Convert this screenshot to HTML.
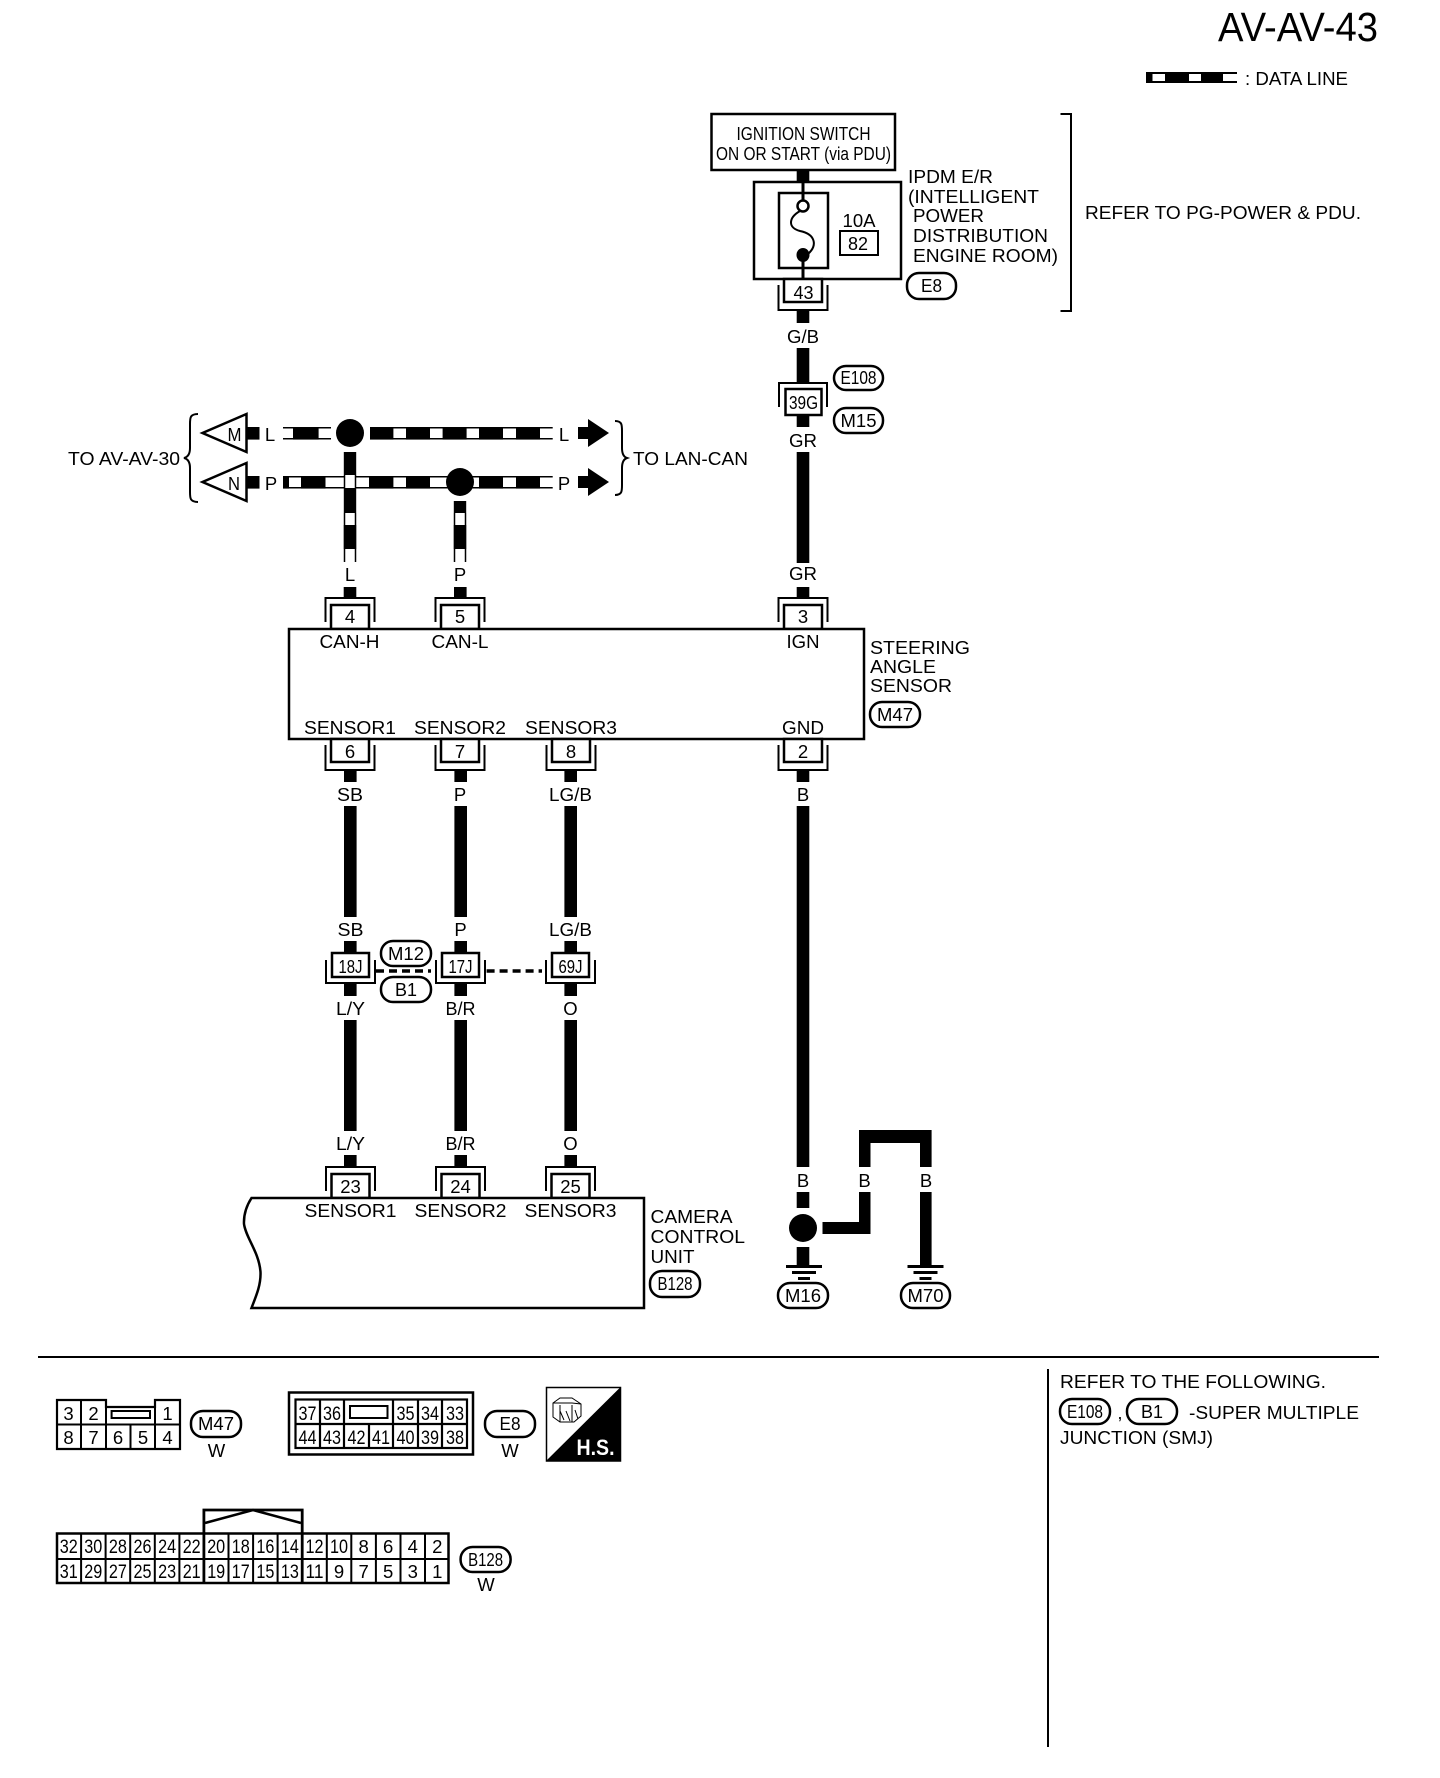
<!DOCTYPE html>
<html lang="en">
<head>
<meta charset="utf-8">
<title>AV-AV-43</title>
<style>
html,body{margin:0;padding:0;background:#fff}
svg{display:block}
text{font-family:"Liberation Sans",sans-serif;font-size:18.5px;text-anchor:middle;fill:#000}
.l{text-anchor:start}
.p{fill:#fff;stroke:#000;stroke-width:2.5}
.o{fill:none;stroke:#000;stroke-width:2}
.b{fill:#fff;stroke:#000;stroke-width:2.5}
.g{fill:none;stroke:#000;stroke-width:2}
.n{font-size:19px}
</style>
</head>
<body>
<svg xmlns="http://www.w3.org/2000/svg" width="1440" height="1778" viewBox="0 0 1440 1778">
<defs>
<g id="cT"><path class="o" d="M-24.5 -7V-31H24.5V-7"/><rect class="b" x="-19" y="-24" width="38" height="24"/></g>
<g id="cB"><path class="o" d="M-24.5 6V31H24.5V6"/><rect class="b" x="-19" y="0" width="38" height="23"/></g>
<g id="cM"><path class="o" d="M-24.5 7V30H24.5V7"/><rect class="b" x="-18.5" y="0" width="37" height="24"/></g>
<g id="gnd"><rect x="-18" y="0" width="36" height="3"/><rect x="-12" y="6" width="24" height="3"/><rect x="-6" y="12" width="12" height="3"/></g>
</defs>
<rect width="1440" height="1778" fill="#fff"/>

<!-- Title / legend -->
<text x="1298" y="41" style="font-size:41px" textLength="160" lengthAdjust="spacingAndGlyphs">AV-AV-43</text>
<rect x="1146" y="72" width="91" height="11"/>
<rect x="1152.5" y="74" width="12.5" height="7" fill="#fff"/>
<rect x="1189" y="74" width="12" height="7" fill="#fff"/>
<rect x="1223" y="74" width="15" height="7" fill="#fff"/>
<text class="l" x="1245" y="85" textLength="103" lengthAdjust="spacingAndGlyphs">: DATA LINE</text>

<!-- Ignition + IPDM -->
<rect x="796.7" y="170" width="12.6" height="12"/>
<rect class="b" x="711.5" y="114" width="183.5" height="56"/>
<text x="803.5" y="140" textLength="134" lengthAdjust="spacingAndGlyphs">IGNITION SWITCH</text>
<text x="803.5" y="160" textLength="175" lengthAdjust="spacingAndGlyphs">ON OR START (via PDU)</text>
<rect class="b" x="754" y="182" width="147" height="97"/>
<rect class="b" x="779" y="193" width="49" height="75"/>
<rect x="801.5" y="182" width="3" height="19"/>
<circle cx="803" cy="206" r="5.5" fill="#fff" stroke="#000" stroke-width="2.5"/>
<path d="M800 211C788 218 788 228 800 231C815 234 818 245 808 254" fill="none" stroke="#000" stroke-width="2"/>
<ellipse cx="803" cy="255" rx="6.5" ry="7"/>
<rect x="801.5" y="260" width="3" height="19"/>
<text x="859" y="227" textLength="33" lengthAdjust="spacingAndGlyphs">10A</text>
<rect class="o" x="840" y="231" width="38" height="24"/>
<text x="858" y="250" textLength="20" lengthAdjust="spacingAndGlyphs">82</text>
<text class="l" x="908" y="183" textLength="85" lengthAdjust="spacingAndGlyphs">IPDM E/R</text>
<text class="l" x="908" y="203" textLength="131" lengthAdjust="spacingAndGlyphs">(INTELLIGENT</text>
<text class="l" x="913" y="222" textLength="71" lengthAdjust="spacingAndGlyphs">POWER</text>
<text class="l" x="913" y="242" textLength="135" lengthAdjust="spacingAndGlyphs">DISTRIBUTION</text>
<text class="l" x="913" y="262" textLength="145" lengthAdjust="spacingAndGlyphs">ENGINE ROOM)</text>
<rect class="p" x="907" y="273" width="49" height="26" rx="12"/>
<text x="931.5" y="292" textLength="21" lengthAdjust="spacingAndGlyphs">E8</text>
<path d="M1060.5 114H1071V311H1060.5" fill="none" stroke="#000" stroke-width="2"/>
<text class="l" x="1085" y="219" textLength="276" lengthAdjust="spacingAndGlyphs">REFER TO PG-POWER &amp; PDU.</text>

<use href="#cB" x="803" y="279"/>
<text x="803.5" y="299" textLength="20" lengthAdjust="spacingAndGlyphs">43</text>

<!-- x=803 wires -->
<g>
<rect x="796.7" y="311" width="12.6" height="12"/>
<rect x="796.7" y="348" width="12.6" height="35"/>
<rect x="796.7" y="415" width="12.6" height="12"/>
<rect x="796.7" y="452" width="12.6" height="111"/>
<rect x="796.7" y="587" width="12.6" height="11"/>
<rect x="796.7" y="770" width="12.6" height="12"/>
<rect x="796.7" y="806" width="12.6" height="361"/>
<rect x="796.7" y="1192" width="12.6" height="16"/>
<rect x="796.7" y="1247" width="12.6" height="18"/>
</g>
<text x="803" y="343" textLength="32" lengthAdjust="spacingAndGlyphs">G/B</text>
<path class="o" d="M779 407V383H827V407"/>
<rect class="b" x="785.5" y="389" width="36" height="26"/>
<text x="803.5" y="409" textLength="29" lengthAdjust="spacingAndGlyphs">39G</text>
<rect class="p" x="834" y="366" width="49" height="24" rx="12"/>
<text x="858.5" y="384" textLength="36" lengthAdjust="spacingAndGlyphs">E108</text>
<rect class="p" x="834" y="408" width="49" height="25" rx="12"/>
<text x="858.5" y="427" textLength="36" lengthAdjust="spacingAndGlyphs">M15</text>
<text x="803" y="447" textLength="28" lengthAdjust="spacingAndGlyphs">GR</text>
<text x="803" y="580" textLength="28" lengthAdjust="spacingAndGlyphs">GR</text>

<!-- CAN section -->
<text x="124" y="465" textLength="112" lengthAdjust="spacingAndGlyphs">TO AV-AV-30</text>
<path d="M198 414C190 414 190 418 190 424V448C190 454 188 457 184 458C188 459 190 462 190 468V492C190 498 190 502 198 502" fill="none" stroke="#000" stroke-width="2"/>
<path d="M246.5 414L202.5 433L246.5 452Z" fill="#fff" stroke="#000" stroke-width="2.5"/>
<path d="M246.5 463L202.5 482L246.5 501Z" fill="#fff" stroke="#000" stroke-width="2.5"/>
<text x="234.5" y="441" textLength="14" lengthAdjust="spacingAndGlyphs">M</text>
<text x="234" y="490" textLength="12" lengthAdjust="spacingAndGlyphs">N</text>
<rect x="246.5" y="427" width="13" height="12.6"/>
<rect x="246.5" y="476" width="13" height="12.6"/>
<text x="270" y="441">L</text>
<text x="271" y="490">P</text>

<!-- top data line -->
<path d="M283 427.7H331M283 438.7H331M370 427.7H552.7M370 438.7H552.7" stroke="#000" stroke-width="1.5" fill="none"/>
<rect x="293" y="427" width="25.6" height="12.6"/>
<rect x="370" y="427" width="23.4" height="12.6"/>
<rect x="406" y="427" width="24" height="12.6"/>
<rect x="442.6" y="427" width="24" height="12.6"/>
<rect x="479" y="427" width="24" height="12.6"/>
<rect x="516" y="427" width="24" height="12.6"/>
<text x="564" y="441">L</text>
<path d="M578 427H588V419L609 433L588 447V439H578Z"/>

<!-- bottom data line -->
<path d="M283 476.7H344M283 487.7H344M356 476.7H552.7M356 487.7H552.7" stroke="#000" stroke-width="1.5" fill="none"/>
<rect x="283" y="476" width="6" height="12.6"/>
<rect x="301" y="476" width="24.5" height="12.6"/>
<rect x="369" y="476" width="24.4" height="12.6"/>
<rect x="406" y="476" width="24" height="12.6"/>
<rect x="479" y="476" width="24" height="12.6"/>
<rect x="516" y="476" width="24" height="12.6"/>
<text x="564" y="490">P</text>
<path d="M578 476H588V468L609 482L588 496V488H578Z"/>

<!-- dots -->
<ellipse cx="350" cy="433" rx="14" ry="14"/>
<ellipse cx="460" cy="482" rx="14" ry="14"/>

<!-- vertical data x=350 -->
<rect x="343.8" y="452" width="12.4" height="23"/>
<rect x="345" y="475" width="10" height="13" fill="#fff"/>
<path d="M344.5 475V488M355.5 475V488M344.5 513V562M355.5 513V562M454.5 513V562M465.5 513V562" stroke="#000" stroke-width="1.5" fill="none"/>
<rect x="343.8" y="488" width="12.4" height="25"/>
<rect x="343.8" y="525" width="12.4" height="24"/>
<!-- vertical data x=460 -->
<rect x="453.8" y="501" width="12.4" height="12"/>
<rect x="453.8" y="525" width="12.4" height="24"/>

<!-- Right bracket -->
<path d="M615 421C622 421 622 425 622 431V448C622 454 624 457 627 458C624 459 622 462 622 468V485C622 491 622 495 615 495" fill="none" stroke="#000" stroke-width="2"/>
<text x="690.5" y="465" textLength="115" lengthAdjust="spacingAndGlyphs">TO LAN-CAN</text>

<!-- Upper wires and connectors to steering -->
<text x="350" y="581">L</text>
<text x="460" y="581">P</text>
<rect x="343.7" y="587" width="12.6" height="11"/>
<rect x="454" y="587" width="12.6" height="11"/>
<use href="#cT" x="350" y="629"/>
<use href="#cT" x="460" y="629"/>
<use href="#cT" x="803" y="629"/>
<text x="350" y="623">4</text>
<text x="460" y="623">5</text>
<text x="803" y="623">3</text>

<!-- Steering box -->
<rect class="b" x="289" y="629" width="575" height="110"/>
<text x="349.5" y="648" textLength="60" lengthAdjust="spacingAndGlyphs">CAN-H</text>
<text x="460" y="648" textLength="57" lengthAdjust="spacingAndGlyphs">CAN-L</text>
<text x="803" y="648" textLength="33" lengthAdjust="spacingAndGlyphs">IGN</text>
<text x="350" y="734" textLength="92" lengthAdjust="spacingAndGlyphs">SENSOR1</text>
<text x="460" y="734" textLength="92" lengthAdjust="spacingAndGlyphs">SENSOR2</text>
<text x="571" y="734" textLength="92" lengthAdjust="spacingAndGlyphs">SENSOR3</text>
<text x="803" y="734" textLength="42" lengthAdjust="spacingAndGlyphs">GND</text>
<text class="l" x="870" y="654" textLength="100" lengthAdjust="spacingAndGlyphs">STEERING</text>
<text class="l" x="870" y="673" textLength="66" lengthAdjust="spacingAndGlyphs">ANGLE</text>
<text class="l" x="870" y="692" textLength="82" lengthAdjust="spacingAndGlyphs">SENSOR</text>
<rect class="p" x="870" y="702" width="50" height="25" rx="12"/>
<text x="895" y="721" textLength="36" lengthAdjust="spacingAndGlyphs">M47</text>

<use href="#cB" x="350" y="739"/>
<use href="#cB" x="460" y="739"/>
<use href="#cB" x="571" y="739"/>
<use href="#cB" x="803" y="739"/>
<text x="350" y="758">6</text>
<text x="460" y="758">7</text>
<text x="571" y="758">8</text>
<text x="803" y="758">2</text>

<!-- Lower wires x=350,460,571 -->
<g>
<rect x="344" y="770" width="12.6" height="12"/><rect x="344" y="806" width="12.6" height="111"/><rect x="344" y="941" width="12.6" height="12"/><rect x="344" y="983" width="12.6" height="13"/><rect x="344" y="1020" width="12.6" height="111"/><rect x="344" y="1155" width="12.6" height="12"/>
<rect x="454.4" y="770" width="12.6" height="12"/><rect x="454.4" y="806" width="12.6" height="111"/><rect x="454.4" y="941" width="12.6" height="12"/><rect x="454.4" y="983" width="12.6" height="13"/><rect x="454.4" y="1020" width="12.6" height="111"/><rect x="454.4" y="1155" width="12.6" height="12"/>
<rect x="564.4" y="770" width="12.6" height="12"/><rect x="564.4" y="806" width="12.6" height="111"/><rect x="564.4" y="941" width="12.6" height="12"/><rect x="564.4" y="983" width="12.6" height="13"/><rect x="564.4" y="1020" width="12.6" height="111"/><rect x="564.4" y="1155" width="12.6" height="12"/>
</g>
<text x="350" y="801" textLength="26" lengthAdjust="spacingAndGlyphs">SB</text>
<text x="460" y="801">P</text>
<text x="570.5" y="801" textLength="43" lengthAdjust="spacingAndGlyphs">LG/B</text>
<text x="803" y="801">B</text>
<text x="350.5" y="936" textLength="26" lengthAdjust="spacingAndGlyphs">SB</text>
<text x="460.5" y="936">P</text>
<text x="570.5" y="936" textLength="43" lengthAdjust="spacingAndGlyphs">LG/B</text>

<!-- Mid connectors -->
<use href="#cM" x="350.5" y="953"/>
<use href="#cM" x="460.5" y="953"/>
<use href="#cM" x="570.5" y="953"/>
<text x="350.5" y="973" textLength="24" lengthAdjust="spacingAndGlyphs">18J</text>
<text x="460.5" y="973" textLength="24" lengthAdjust="spacingAndGlyphs">17J</text>
<text x="570.5" y="973" textLength="24" lengthAdjust="spacingAndGlyphs">69J</text>
<path d="M376 971H431M486.6 971H542" stroke="#000" stroke-width="3.5" stroke-dasharray="8 5" fill="none"/>
<rect class="p" x="381" y="941" width="50" height="25" rx="12"/>
<text x="406" y="960" textLength="36" lengthAdjust="spacingAndGlyphs">M12</text>
<rect class="p" x="381" y="977" width="50" height="25" rx="12"/>
<text x="406" y="996" textLength="22" lengthAdjust="spacingAndGlyphs">B1</text>

<text x="350.5" y="1015" textLength="29" lengthAdjust="spacingAndGlyphs">L/Y</text>
<text x="460.5" y="1015" textLength="30" lengthAdjust="spacingAndGlyphs">B/R</text>
<text x="570.5" y="1015">O</text>
<text x="350.5" y="1150" textLength="29" lengthAdjust="spacingAndGlyphs">L/Y</text>
<text x="460.5" y="1150" textLength="30" lengthAdjust="spacingAndGlyphs">B/R</text>
<text x="570.5" y="1150">O</text>

<!-- Camera -->
<use href="#cT" x="350.5" y="1198"/>
<use href="#cT" x="460.5" y="1198"/>
<use href="#cT" x="570.5" y="1198"/>
<text x="350.5" y="1193">23</text>
<text x="460.5" y="1193">24</text>
<text x="570.5" y="1193">25</text>
<path d="M251.5 1198H644V1308H251.5C257 1294 261 1284 260.5 1272C259 1252 246 1238 244 1224C243.500 1213 247 1205 251.500 1198Z" fill="#fff" stroke="#000" stroke-width="2.5"/>
<text x="350.5" y="1217" textLength="92" lengthAdjust="spacingAndGlyphs">SENSOR1</text>
<text x="460.5" y="1217" textLength="92" lengthAdjust="spacingAndGlyphs">SENSOR2</text>
<text x="570.5" y="1217" textLength="92" lengthAdjust="spacingAndGlyphs">SENSOR3</text>
<text class="l" x="650.5" y="1223" textLength="82" lengthAdjust="spacingAndGlyphs">CAMERA</text>
<text class="l" x="650.5" y="1243" textLength="94.5" lengthAdjust="spacingAndGlyphs">CONTROL</text>
<text class="l" x="650.5" y="1263" textLength="44" lengthAdjust="spacingAndGlyphs">UNIT</text>
<rect class="p" x="650" y="1271" width="50" height="26" rx="12"/>
<text x="675" y="1290" textLength="35" lengthAdjust="spacingAndGlyphs">B128</text>

<!-- Grounds -->
<text x="803" y="1187">B</text>
<text x="864.5" y="1187">B</text>
<text x="926" y="1187">B</text>
<ellipse cx="803" cy="1228" rx="14" ry="14"/>
<path d="M859 1167V1130H931.6V1167H920V1143H870.5V1167Z"/>
<path d="M859 1192H870.5V1234H822.5V1222H859Z"/>
<rect x="920" y="1192" width="11.6" height="73"/>
<use href="#gnd" x="804" y="1265"/>
<use href="#gnd" x="925.5" y="1265"/>
<rect class="p" x="778" y="1283" width="50" height="25" rx="12"/>
<text x="803" y="1302" textLength="36" lengthAdjust="spacingAndGlyphs">M16</text>
<rect class="p" x="901" y="1283" width="49" height="25" rx="12"/>
<text x="925.5" y="1302" textLength="36" lengthAdjust="spacingAndGlyphs">M70</text>

<!-- Divider -->
<rect x="38" y="1356" width="1341" height="2"/>
<rect x="1047" y="1369" width="2" height="378"/>
<text class="l" x="1060" y="1388" textLength="266" lengthAdjust="spacingAndGlyphs">REFER TO THE FOLLOWING.</text>
<rect class="p" x="1060" y="1399" width="50" height="25" rx="12"/>
<text x="1085" y="1418" textLength="36" lengthAdjust="spacingAndGlyphs">E108</text>
<text x="1120" y="1419">,</text>
<rect class="p" x="1127" y="1399" width="50" height="25" rx="12"/>
<text x="1152" y="1418" textLength="22" lengthAdjust="spacingAndGlyphs">B1</text>
<text class="l" x="1189" y="1419" textLength="170" lengthAdjust="spacingAndGlyphs">-SUPER MULTIPLE</text>
<text class="l" x="1060" y="1444" textLength="153" lengthAdjust="spacingAndGlyphs">JUNCTION (SMJ)</text>

<!-- M47 connector -->
<g fill="none" stroke="#000" stroke-width="2">
<path d="M57 1400H106V1407H155V1400H180V1449H57Z" stroke-width="2.2"/>
<path d="M57 1424.500H180M81 1400V1449M106 1400V1449M155 1400V1449M130.500 1424.500V1449"/>
<rect x="111.600" y="1411" width="38.400" height="7"/>
</g>
<g>
<text x="68.500" y="1420">3</text><text x="93.500" y="1420">2</text><text x="167.500" y="1420">1</text>
<text x="68.500" y="1444">8</text><text x="93.500" y="1444">7</text><text x="118" y="1444">6</text><text x="143" y="1444">5</text><text x="167.500" y="1444">4</text>
</g>
<rect class="p" x="191" y="1411" width="50" height="26" rx="12"/>
<text x="216" y="1430" textLength="36" lengthAdjust="spacingAndGlyphs">M47</text>
<text x="216.500" y="1457">W</text>

<!-- E8 connector -->
<rect x="289" y="1392.500" width="184" height="62" fill="none" stroke="#000" stroke-width="2.500"/>
<g fill="none" stroke="#000" stroke-width="2.200">
<rect x="295.500" y="1399.500" width="171.500" height="48.500"/>
<path d="M295.500 1424H467M320 1399.500V1448M344 1399.500V1448M393 1399.500V1448M418 1399.500V1448M442 1399.500V1448M369 1424V1448"/>
<rect x="350" y="1406" width="37.500" height="12" stroke-width="2"/>
</g>
<g>
<text class="n" x="307.500" y="1420" textLength="18" lengthAdjust="spacingAndGlyphs">37</text>
<text class="n" x="332" y="1420" textLength="18" lengthAdjust="spacingAndGlyphs">36</text>
<text class="n" x="405.500" y="1420" textLength="18" lengthAdjust="spacingAndGlyphs">35</text>
<text class="n" x="430" y="1420" textLength="18" lengthAdjust="spacingAndGlyphs">34</text>
<text class="n" x="455" y="1420" textLength="18" lengthAdjust="spacingAndGlyphs">33</text>
<text class="n" x="307.500" y="1444" textLength="18" lengthAdjust="spacingAndGlyphs">44</text>
<text class="n" x="332" y="1444" textLength="18" lengthAdjust="spacingAndGlyphs">43</text>
<text class="n" x="356.500" y="1444" textLength="18" lengthAdjust="spacingAndGlyphs">42</text>
<text class="n" x="381" y="1444" textLength="18" lengthAdjust="spacingAndGlyphs">41</text>
<text class="n" x="405.500" y="1444" textLength="18" lengthAdjust="spacingAndGlyphs">40</text>
<text class="n" x="430" y="1444" textLength="18" lengthAdjust="spacingAndGlyphs">39</text>
<text class="n" x="455" y="1444" textLength="18" lengthAdjust="spacingAndGlyphs">38</text>
</g>
<rect class="p" x="485" y="1411" width="50" height="26" rx="12"/>
<text x="510" y="1430" textLength="21" lengthAdjust="spacingAndGlyphs">E8</text>
<text x="510" y="1457">W</text>

<!-- H.S. -->
<rect x="546.500" y="1387.500" width="74" height="73.500" fill="#fff" stroke="#000" stroke-width="1.500"/>
<path d="M620.600 1387V1461H546Z"/>
<path d="M553 1403L560 1398H572L581 1404V1416L574 1422H560L553 1417ZM553 1403H572L581 1404M560 1405V1422M572 1405V1422M560 1411L564 1420M566 1411L570 1421M575 1410L578 1419" fill="none" stroke="#000" stroke-width="1"/>
<text x="595.500" y="1455" style="font-size:22px;font-weight:bold;fill:#fff" textLength="38" lengthAdjust="spacingAndGlyphs">H.S.</text>

<!-- B128 connector -->
<g fill="none" stroke="#000" stroke-width="2">
<rect x="57" y="1533.500" width="391.500" height="49.500" stroke-width="2.500"/>
<path d="M57 1559H448.500M81.100 1533V1583M105.600 1533V1583M130.200 1533V1583M154.800 1533V1583M179.400 1533V1583M228.500 1533V1583M253.100 1533V1583M277.600 1533V1583M326.800 1533V1583M351.300 1533V1583M375.900 1533V1583M400.500 1533V1583M425 1533V1583"/>
<path d="M203.900 1583V1510H302.200V1583" stroke-width="2.800"/>
<path d="M205 1523L253 1510L301 1523" stroke-width="2.500"/>
</g>
<g>
<text class="n" x="68.800" y="1553" textLength="18" lengthAdjust="spacingAndGlyphs">32</text>
<text class="n" x="93.300" y="1553" textLength="18" lengthAdjust="spacingAndGlyphs">30</text>
<text class="n" x="117.900" y="1553" textLength="18" lengthAdjust="spacingAndGlyphs">28</text>
<text class="n" x="142.500" y="1553" textLength="18" lengthAdjust="spacingAndGlyphs">26</text>
<text class="n" x="167.100" y="1553" textLength="18" lengthAdjust="spacingAndGlyphs">24</text>
<text class="n" x="191.700" y="1553" textLength="18" lengthAdjust="spacingAndGlyphs">22</text>
<text class="n" x="216.200" y="1553" textLength="18" lengthAdjust="spacingAndGlyphs">20</text>
<text class="n" x="240.800" y="1553" textLength="18" lengthAdjust="spacingAndGlyphs">18</text>
<text class="n" x="265.400" y="1553" textLength="18" lengthAdjust="spacingAndGlyphs">16</text>
<text class="n" x="289.900" y="1553" textLength="18" lengthAdjust="spacingAndGlyphs">14</text>
<text class="n" x="314.500" y="1553" textLength="18" lengthAdjust="spacingAndGlyphs">12</text>
<text class="n" x="339" y="1553" textLength="18" lengthAdjust="spacingAndGlyphs">10</text>
<text x="363.600" y="1553">8</text>
<text x="388.200" y="1553">6</text>
<text x="412.800" y="1553">4</text>
<text x="437.300" y="1553">2</text>
<text class="n" x="68.800" y="1578" textLength="18" lengthAdjust="spacingAndGlyphs">31</text>
<text class="n" x="93.300" y="1578" textLength="18" lengthAdjust="spacingAndGlyphs">29</text>
<text class="n" x="117.900" y="1578" textLength="18" lengthAdjust="spacingAndGlyphs">27</text>
<text class="n" x="142.500" y="1578" textLength="18" lengthAdjust="spacingAndGlyphs">25</text>
<text class="n" x="167.100" y="1578" textLength="18" lengthAdjust="spacingAndGlyphs">23</text>
<text class="n" x="191.700" y="1578" textLength="18" lengthAdjust="spacingAndGlyphs">21</text>
<text class="n" x="216.200" y="1578" textLength="18" lengthAdjust="spacingAndGlyphs">19</text>
<text class="n" x="240.800" y="1578" textLength="18" lengthAdjust="spacingAndGlyphs">17</text>
<text class="n" x="265.400" y="1578" textLength="18" lengthAdjust="spacingAndGlyphs">15</text>
<text class="n" x="289.900" y="1578" textLength="18" lengthAdjust="spacingAndGlyphs">13</text>
<text class="n" x="314.500" y="1578" textLength="18" lengthAdjust="spacingAndGlyphs">11</text>
<text x="339" y="1578">9</text>
<text x="363.600" y="1578">7</text>
<text x="388.200" y="1578">5</text>
<text x="412.800" y="1578">3</text>
<text x="437.300" y="1578">1</text>
</g>
<rect class="p" x="460.600" y="1547" width="50" height="25" rx="12"/>
<text x="485.600" y="1566" textLength="35" lengthAdjust="spacingAndGlyphs">B128</text>
<text x="486" y="1591">W</text>
</svg>
</body>
</html>
